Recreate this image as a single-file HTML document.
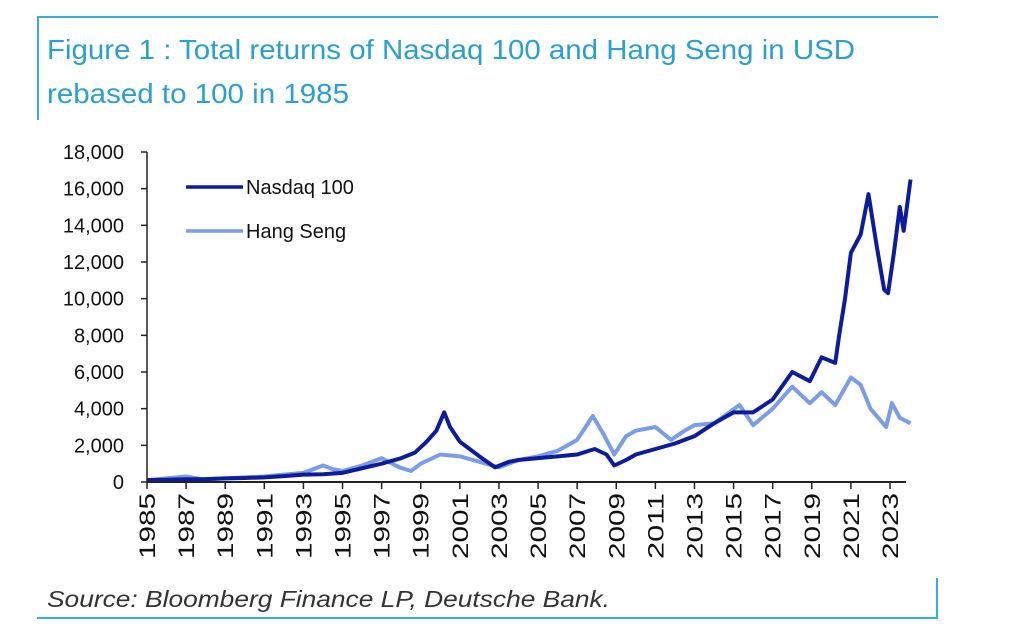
<!DOCTYPE html>
<html><head><meta charset="utf-8"><style>
body{margin:0;background:#fff;width:1018px;height:642px;overflow:hidden;font-family:"Liberation Sans",sans-serif}
</style></head><body>
<svg width="1018" height="642" style="position:absolute;left:0;top:0">
<line x1="37" y1="17" x2="938" y2="17" stroke="#3aaed6" stroke-width="2"/>
<line x1="38" y1="17" x2="38" y2="120" stroke="#3aaed6" stroke-width="2"/>
<text x="47" y="59" font-size="28" textLength="808" lengthAdjust="spacingAndGlyphs" fill="#2a9fd0">Figure 1 : Total returns of Nasdaq 100 and Hang Seng in USD</text>
<text x="47" y="103" font-size="28" textLength="302" lengthAdjust="spacingAndGlyphs" fill="#2a9fd0">rebased to 100 in 1985</text>
<g id="chart"></g>
<line x1="37" y1="618" x2="938" y2="618" stroke="#3aaed6" stroke-width="2"/>
<line x1="937" y1="578" x2="937" y2="618" stroke="#3aaed6" stroke-width="2"/>
<text x="47" y="607" font-size="23" font-style="italic" textLength="563" lengthAdjust="spacingAndGlyphs" fill="#333">Source: Bloomberg Finance LP, Deutsche Bank.</text>
</svg>
<script>
const yTicks=[0,2000,4000,6000,8000,10000,12000,14000,16000,18000];
const xTicks=[1985,1987,1989,1991,1993,1995,1997,1999,2001,2003,2005,2007,2009,2011,2013,2015,2017,2019,2021,2023];
const ndqYears=[1985,1986,1987,1988,1989,1990,1991,1992,1993,1994,1995,1996,1997,1998,1998.7,1999.3,1999.8,2000.2,2000.5,2001,2001.5,2002,2002.8,2003.5,2004,2005,2006,2007,2007.9,2008.5,2008.9,2009.5,2010,2011,2012,2013,2014,2015,2016,2017,2018,2018.9,2019.5,2020.2,2020.4,2020.7,2021,2021.5,2021.9,2022.3,2022.7,2022.9,2023.2,2023.5,2023.7,2024.05];
const ndqVals=[100,120,150,160,200,220,250,320,400,420,500,750,1000,1300,1600,2200,2800,3800,3000,2200,1800,1400,800,1100,1200,1300,1400,1500,1800,1500,900,1200,1500,1800,2100,2500,3200,3800,3800,4500,6000,5500,6800,6500,8000,10000,12500,13500,15700,13000,10500,10300,12500,15000,13700,16500];
const hsYears=[1985,1986,1987,1987.8,1989,1990,1991,1992,1993,1994,1994.5,1995,1996,1997,1997.9,1998.5,1999,2000,2001,2002,2003,2004,2005,2006,2007,2007.8,2008.3,2008.9,2009.5,2010,2011,2011.8,2012.5,2013,2014,2015.3,2016,2017,2018,2018.9,2019.5,2020.2,2021,2021.5,2022,2022.8,2023.1,2023.5,2024.05];
const hsVals=[100,200,300,150,200,250,300,400,500,900,700,600,900,1300,800,600,1000,1500,1400,1100,800,1200,1400,1700,2300,3600,2700,1500,2500,2800,3000,2300,2800,3100,3200,4200,3100,4000,5200,4300,4900,4200,5700,5300,4000,3000,4300,3500,3200];
const NS="http://www.w3.org/2000/svg";
const g=document.getElementById('chart');
const x=yr=>147+(yr-1985)*(890-147)/38;
const y=v=>482-v*(330/18000);
function mk(t,a){const e=document.createElementNS(NS,t);for(const k in a)e.setAttribute(k,a[k]);g.appendChild(e);return e;}
yTicks.forEach(v=>{
 const l=mk('line',{x1:141,x2:147,y1:y(v),y2:y(v),stroke:'#222','stroke-width':1.5});
 
 
 const t=mk('text',{x:124,y:y(v)+7,'font-size':20,'text-anchor':'end',fill:'#111'});
 t.textContent=v.toLocaleString('en-US');
 
 
});
xTicks.forEach(yr=>{
 const l=mk('line',{x1:x(yr),x2:x(yr),y1:482,y2:489,stroke:'#222','stroke-width':1.5});
 
 
 const t=mk('text',{x:0,y:0,'font-size':22,'text-anchor':'end',fill:'#111',textLength:66,lengthAdjust:'spacingAndGlyphs',transform:`translate(${x(yr)+8},493) rotate(-90)`});
 t.textContent=yr;
 
 
});
function series(ys,vs,c,name){
 const p=mk('polyline',{points:ys.map((yr,i)=>x(yr)+','+y(vs[i])).join(' '),fill:'none',stroke:c,'stroke-width':4,'stroke-linejoin':'round'});
 
 
}
series(hsYears,hsVals,'#7b9ce8','hang-seng-line');
series(ndqYears,ndqVals,'#0c1c9c','nasdaq-line');
const ya=mk('line',{x1:147,x2:147,y1:152,y2:482,stroke:'#222','stroke-width':1.5});


const xa=mk('line',{x1:147,x2:906,y1:482,y2:482,stroke:'#222','stroke-width':2});


[['Nasdaq 100','#0c1c9c',187,'legend-nasdaq'],['Hang Seng','#7b9ce8',231,'legend-hang-seng']].forEach(([n,c,yy,dn])=>{
 const l=mk('line',{x1:186,x2:243,y1:yy,y2:yy,stroke:c,'stroke-width':3.5});
 
 
 const t=mk('text',{x:246,y:yy+7,'font-size':20,fill:'#111'});
 t.textContent=n;
 
 
});
</script>
</body></html>
